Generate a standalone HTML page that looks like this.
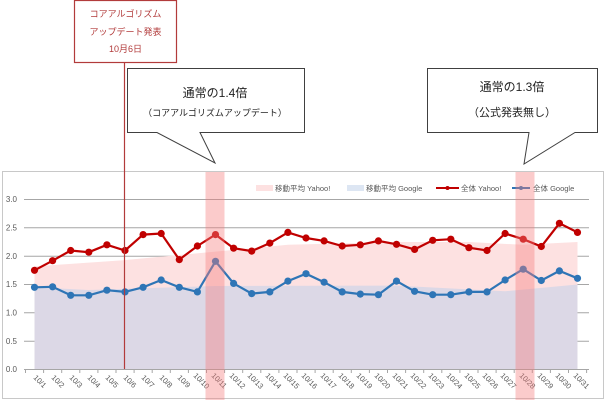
<!DOCTYPE html>
<html><head><meta charset="utf-8"><style>
body{margin:0;background:#fff;}
svg{display:block;font-family:"Liberation Sans","Noto Sans CJK JP",sans-serif;}
</style></head><body>
<svg width="606" height="400" viewBox="0 0 606 400" xmlns="http://www.w3.org/2000/svg">
<rect x="2.5" y="171.5" width="601" height="227" fill="#fff" stroke="#c8c8c8"/>
<!-- gridlines -->
<g stroke="#a6a6a6" stroke-width="1">
<line x1="24" y1="199.5" x2="589" y2="199.5"/>
<line x1="24" y1="227.8" x2="589" y2="227.8"/>
<line x1="24" y1="256.2" x2="589" y2="256.2"/>
<line x1="24" y1="284.5" x2="589" y2="284.5"/>
<line x1="24" y1="312.8" x2="589" y2="312.8"/>
<line x1="24" y1="341.2" x2="589" y2="341.2"/>
</g>
<!-- areas -->
<polygon fill="#fde1e1" points="34.5,369.5 34.5,266.4 125,260.1 215.5,251.6 287.9,244.8 396.5,242 468.9,242 523.2,244.8 577.5,242 577.5,369.5"/>
<polygon fill="#dcd8e6" points="34.5,369.5 34.5,287.3 88.8,290 215.5,286 396.5,285.6 505.1,291.3 577.5,284.5 577.5,369.5"/>
<line x1="24" y1="369.5" x2="589" y2="369.5" stroke="#a6a6a6"/>
<g stroke="#a6a6a6"><line x1="25.5" y1="369.5" x2="25.5" y2="373"/><line x1="43.6" y1="369.5" x2="43.6" y2="373"/><line x1="61.7" y1="369.5" x2="61.7" y2="373"/><line x1="79.8" y1="369.5" x2="79.8" y2="373"/><line x1="97.9" y1="369.5" x2="97.9" y2="373"/><line x1="116" y1="369.5" x2="116" y2="373"/><line x1="134.1" y1="369.5" x2="134.1" y2="373"/><line x1="152.2" y1="369.5" x2="152.2" y2="373"/><line x1="170.3" y1="369.5" x2="170.3" y2="373"/><line x1="188.4" y1="369.5" x2="188.4" y2="373"/><line x1="206.5" y1="369.5" x2="206.5" y2="373"/><line x1="224.6" y1="369.5" x2="224.6" y2="373"/><line x1="242.7" y1="369.5" x2="242.7" y2="373"/><line x1="260.8" y1="369.5" x2="260.8" y2="373"/><line x1="278.9" y1="369.5" x2="278.9" y2="373"/><line x1="297" y1="369.5" x2="297" y2="373"/><line x1="315.1" y1="369.5" x2="315.1" y2="373"/><line x1="333.2" y1="369.5" x2="333.2" y2="373"/><line x1="351.3" y1="369.5" x2="351.3" y2="373"/><line x1="369.4" y1="369.5" x2="369.4" y2="373"/><line x1="387.5" y1="369.5" x2="387.5" y2="373"/><line x1="405.6" y1="369.5" x2="405.6" y2="373"/><line x1="423.7" y1="369.5" x2="423.7" y2="373"/><line x1="441.8" y1="369.5" x2="441.8" y2="373"/><line x1="459.9" y1="369.5" x2="459.9" y2="373"/><line x1="478" y1="369.5" x2="478" y2="373"/><line x1="496.1" y1="369.5" x2="496.1" y2="373"/><line x1="514.2" y1="369.5" x2="514.2" y2="373"/><line x1="532.3" y1="369.5" x2="532.3" y2="373"/><line x1="550.4" y1="369.5" x2="550.4" y2="373"/><line x1="568.5" y1="369.5" x2="568.5" y2="373"/><line x1="586.6" y1="369.5" x2="586.6" y2="373"/></g>
<!-- y labels -->
<g font-size="8" fill="#595959" text-anchor="end">
<text x="17" y="202">3.0</text><text x="17" y="230.5">2.5</text><text x="17" y="259">2.0</text><text x="17" y="287">1.5</text><text x="17" y="315.5">1.0</text><text x="17" y="344">0.5</text><text x="17" y="372">0.0</text>
</g>
<!-- legend -->
<g font-size="7.5" fill="#595959">
<rect x="256" y="185" width="17" height="6" fill="#fde1e1"/><text x="275" y="191">移動平均 Yahoo!</text>
<rect x="347" y="185" width="17" height="6" fill="#dde6f3"/><text x="366" y="191">移動平均 Google</text>
<line x1="436" y1="188" x2="459" y2="188" stroke="#c00000" stroke-width="2"/><circle cx="447.5" cy="188" r="2" fill="#c00000"/><text x="461" y="191">全体 Yahoo!</text>
<line x1="512" y1="188" x2="530" y2="188" stroke="#2e75b6" stroke-width="2"/><circle cx="521" cy="188" r="2" fill="#2e75b6"/><text x="533" y="191">全体 Google</text>
</g>
<!-- series -->
<polyline fill="none" stroke="#c00000" stroke-width="2.2" points="34.5,270.3 52.6,260.7 70.7,250.5 88.8,252.2 106.9,244.8 125,250.5 143.1,234.6 161.2,233.5 179.3,259.6 197.4,246 215.5,234.6 233.6,248.2 251.7,251.1 269.8,243.1 287.9,232.4 306,238 324.1,240.9 342.2,246 360.3,244.8 378.4,240.9 396.5,244.3 414.6,249.4 432.7,240.3 450.8,239.2 468.9,247.7 487,250.5 505.1,233.5 523.2,239.2 541.3,246.5 559.4,223.3 577.5,232.4"/>
<g fill="#c00000"><circle cx="34.5" cy="270.3" r="3.6"/><circle cx="52.6" cy="260.7" r="3.6"/><circle cx="70.7" cy="250.5" r="3.6"/><circle cx="88.8" cy="252.2" r="3.6"/><circle cx="106.9" cy="244.8" r="3.6"/><circle cx="125" cy="250.5" r="3.6"/><circle cx="143.1" cy="234.6" r="3.6"/><circle cx="161.2" cy="233.5" r="3.6"/><circle cx="179.3" cy="259.6" r="3.6"/><circle cx="197.4" cy="246" r="3.6"/><circle cx="215.5" cy="234.6" r="3.6"/><circle cx="233.6" cy="248.2" r="3.6"/><circle cx="251.7" cy="251.1" r="3.6"/><circle cx="269.8" cy="243.1" r="3.6"/><circle cx="287.9" cy="232.4" r="3.6"/><circle cx="306" cy="238" r="3.6"/><circle cx="324.1" cy="240.9" r="3.6"/><circle cx="342.2" cy="246" r="3.6"/><circle cx="360.3" cy="244.8" r="3.6"/><circle cx="378.4" cy="240.9" r="3.6"/><circle cx="396.5" cy="244.3" r="3.6"/><circle cx="414.6" cy="249.4" r="3.6"/><circle cx="432.7" cy="240.3" r="3.6"/><circle cx="450.8" cy="239.2" r="3.6"/><circle cx="468.9" cy="247.7" r="3.6"/><circle cx="487" cy="250.5" r="3.6"/><circle cx="505.1" cy="233.5" r="3.6"/><circle cx="523.2" cy="239.2" r="3.6"/><circle cx="541.3" cy="246.5" r="3.6"/><circle cx="559.4" cy="223.3" r="3.6"/><circle cx="577.5" cy="232.4" r="3.6"/></g>
<polyline fill="none" stroke="#2e75b6" stroke-width="2.2" points="34.5,287.3 52.6,286.8 70.7,295.3 88.8,295.3 106.9,290.2 125,291.9 143.1,287.3 161.2,280 179.3,287.3 197.4,291.9 215.5,261.3 233.6,283.4 251.7,293.6 269.8,291.9 287.9,281.1 306,273.7 324.1,282.2 342.2,291.9 360.3,294.1 378.4,294.7 396.5,281.1 414.6,291.3 432.7,294.7 450.8,294.7 468.9,291.9 487,291.9 505.1,280 523.2,269.2 541.3,280.5 559.4,270.9 577.5,278.3"/>
<g fill="#2e75b6"><circle cx="34.5" cy="287.3" r="3.6"/><circle cx="52.6" cy="286.8" r="3.6"/><circle cx="70.7" cy="295.3" r="3.6"/><circle cx="88.8" cy="295.3" r="3.6"/><circle cx="106.9" cy="290.2" r="3.6"/><circle cx="125" cy="291.9" r="3.6"/><circle cx="143.1" cy="287.3" r="3.6"/><circle cx="161.2" cy="280" r="3.6"/><circle cx="179.3" cy="287.3" r="3.6"/><circle cx="197.4" cy="291.9" r="3.6"/><circle cx="215.5" cy="261.3" r="3.6"/><circle cx="233.6" cy="283.4" r="3.6"/><circle cx="251.7" cy="293.6" r="3.6"/><circle cx="269.8" cy="291.9" r="3.6"/><circle cx="287.9" cy="281.1" r="3.6"/><circle cx="306" cy="273.7" r="3.6"/><circle cx="324.1" cy="282.2" r="3.6"/><circle cx="342.2" cy="291.9" r="3.6"/><circle cx="360.3" cy="294.1" r="3.6"/><circle cx="378.4" cy="294.7" r="3.6"/><circle cx="396.5" cy="281.1" r="3.6"/><circle cx="414.6" cy="291.3" r="3.6"/><circle cx="432.7" cy="294.7" r="3.6"/><circle cx="450.8" cy="294.7" r="3.6"/><circle cx="468.9" cy="291.9" r="3.6"/><circle cx="487" cy="291.9" r="3.6"/><circle cx="505.1" cy="280" r="3.6"/><circle cx="523.2" cy="269.2" r="3.6"/><circle cx="541.3" cy="280.5" r="3.6"/><circle cx="559.4" cy="270.9" r="3.6"/><circle cx="577.5" cy="278.3" r="3.6"/></g>
<!-- x labels -->
<g font-size="7.5" fill="#595959">
<text transform="translate(33,378) rotate(45)">10/1</text><text transform="translate(51,378) rotate(45)">10/2</text><text transform="translate(69,378) rotate(45)">10/3</text><text transform="translate(87,378) rotate(45)">10/4</text><text transform="translate(105,378) rotate(45)">10/5</text><text transform="translate(123,378) rotate(45)">10/6</text><text transform="translate(141,378) rotate(45)">10/7</text><text transform="translate(159,378) rotate(45)">10/8</text><text transform="translate(177,378) rotate(45)">10/9</text><text transform="translate(193,376) rotate(45)">10/10</text><text transform="translate(211,376) rotate(45)">10/11</text><text transform="translate(229,376) rotate(45)">10/12</text><text transform="translate(247,376) rotate(45)">10/13</text><text transform="translate(265,376) rotate(45)">10/14</text><text transform="translate(283,376) rotate(45)">10/15</text><text transform="translate(301,376) rotate(45)">10/16</text><text transform="translate(320,376) rotate(45)">10/17</text><text transform="translate(338,376) rotate(45)">10/18</text><text transform="translate(356,376) rotate(45)">10/19</text><text transform="translate(374,376) rotate(45)">10/20</text><text transform="translate(392,376) rotate(45)">10/21</text><text transform="translate(410,376) rotate(45)">10/22</text><text transform="translate(428,376) rotate(45)">10/23</text><text transform="translate(446,376) rotate(45)">10/24</text><text transform="translate(464,376) rotate(45)">10/25</text><text transform="translate(482,376) rotate(45)">10/26</text><text transform="translate(500,376) rotate(45)">10/27</text><text transform="translate(519,376) rotate(45)">10/28</text><text transform="translate(537,376) rotate(45)">10/29</text><text transform="translate(555,376) rotate(45)">10/30</text><text transform="translate(573,376) rotate(45)">10/31</text>
</g>
<!-- highlight bars -->
<rect x="205.5" y="172" width="19" height="228" fill="#f47c7c" fill-opacity="0.4"/>
<rect x="515.5" y="172" width="19" height="228" fill="#f47c7c" fill-opacity="0.4"/>
<!-- vertical line -->
<line x1="124.5" y1="62" x2="124.5" y2="369" stroke="#b23b3b" stroke-width="1.2"/>
<!-- annotation box -->
<rect x="74.5" y="0.5" width="102" height="62" fill="#fff" stroke="#b23b3b" stroke-width="1.2"/>
<g font-size="9" fill="#b23b3b" text-anchor="middle">
<text x="125.5" y="17">コアアルゴリズム</text>
<text x="125.5" y="35">アップデート発表</text>
<text x="125.5" y="52">10月6日</text>
</g>
<!-- callout 1 -->
<path d="M127.5,68.5 H304.5 V132.5 H200 L215,163 L157,132.5 H127.5 Z" fill="#fff" stroke="#404040" stroke-width="1"/>
<text x="215" y="97" font-size="12" text-anchor="middle" fill="#222">通常の1.4倍</text>
<text x="215" y="116" font-size="9" text-anchor="middle" fill="#222">（コアアルゴリズムアップデート）</text>
<!-- callout 2 -->
<path d="M427.5,68.5 H597.5 V132.5 H575 L524,164 L529,132.5 H427.5 Z" fill="#fff" stroke="#404040" stroke-width="1"/>
<text x="512" y="91" font-size="12" text-anchor="middle" fill="#222">通常の1.3倍</text>
<text x="512" y="116" font-size="11" text-anchor="middle" fill="#222">（公式発表無し）</text>
</svg>
</body></html>
